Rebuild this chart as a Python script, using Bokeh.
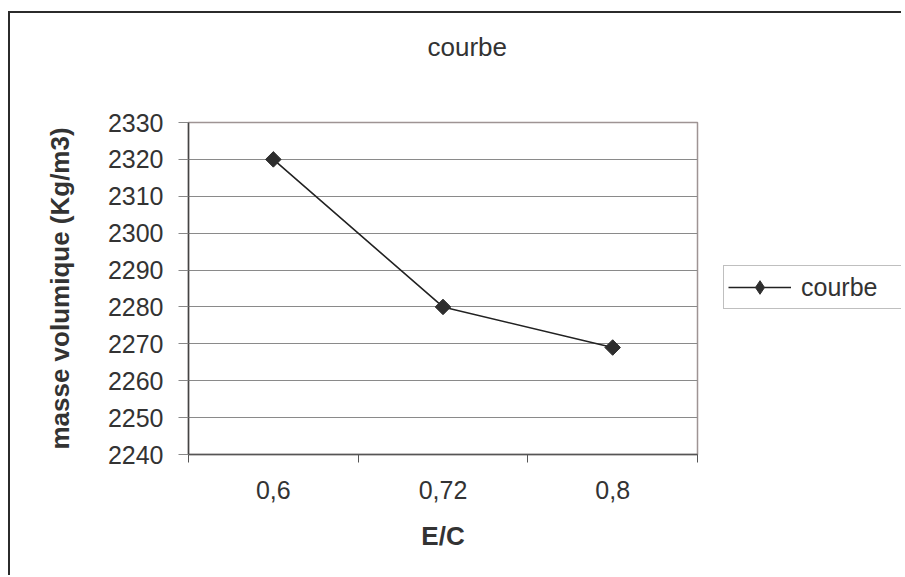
from bokeh.plotting import figure
from bokeh.layouts import row
from bokeh.models import (Range1d, FixedTicker, Legend, LegendItem, LinearAxis)
from bokeh.embed import file_html
from bokeh.resources import INLINE

# ---- data ----
categories = ["0,6", "0,72", "0,8"]
masse = [2320, 2280, 2269]
series_name = "courbe"
y_ticks = [2240, 2250, 2260, 2270, 2280, 2290, 2300, 2310, 2320, 2330]

x_pos = [i + 0.5 for i in range(len(categories))]

FONT = "Liberation Sans"
TXT = "#333333"
LINE_C = "#222222"
MARK_C = "#2e2e2e"
H = 562

p = figure(width=705, height=H, output_backend="svg", toolbar_location=None,
           x_range=Range1d(0, len(categories)), y_range=Range1d(2240, 2330),
           min_border_left=178, min_border_right=18, min_border_top=109,
           min_border_bottom=121)
p.background_fill_color = "white"
p.border_fill_color = "white"
p.outline_line_color = "#9e9494"
p.outline_line_width = 1.5

# invisible spacer between the plot area and the title
mid = len(categories) / 2
spacer = LinearAxis(ticker=FixedTicker(ticks=[mid], minor_ticks=[]),
                    major_label_overrides={mid: ""},
                    major_label_text_font_size="0px",
                    axis_line_color=None, major_tick_line_color=None,
                    minor_tick_line_color=None, major_tick_out=61,
                    major_tick_in=0, minor_tick_out=0,
                    major_label_standoff=0)
p.add_layout(spacer, "above")

# title
p.title.text = "courbe"
p.title.text_font = FONT
p.title.text_font_size = "26px"
p.title.text_font_style = "normal"
p.title.text_color = TXT
p.title.align = "left"
p.title.offset = 239
p.title.vertical_align = "bottom"
p.title.standoff = 0

# x axis (categories between minor ticks, Excel style)
xa = p.below[0]
xa.ticker = FixedTicker(ticks=x_pos, minor_ticks=list(range(len(categories) + 1)))
xa.major_label_overrides = {x: c for x, c in zip(x_pos, categories)}
xa.major_tick_out = 0
xa.major_tick_in = 0
xa.minor_tick_out = 8
xa.minor_tick_in = 0
xa.minor_tick_line_color = "#555555"
xa.axis_line_color = "#555555"
xa.axis_line_width = 1.5
xa.major_label_text_font = FONT
xa.major_label_text_font_size = "25px"
xa.major_label_text_color = TXT
xa.major_label_standoff = 18
xa.axis_label = "E/C"
xa.axis_label_text_font = FONT
xa.axis_label_text_font_size = "26px"
xa.axis_label_text_font_style = "bold"
xa.axis_label_text_color = TXT
xa.axis_label_standoff = 19

# y axis
ya = p.left[0]
ya.ticker = FixedTicker(ticks=y_ticks, minor_ticks=[])
ya.major_tick_out = 10
ya.major_tick_in = 0
ya.major_tick_line_color = "#888888"
ya.axis_line_color = "#444444"
ya.axis_line_width = 1.5
ya.major_label_text_font = FONT
ya.major_label_text_font_size = "25px"
ya.major_label_text_color = TXT
ya.major_label_standoff = 15
ya.axis_label = "masse volumique (Kg/m3)"
ya.axis_label_text_font = FONT
ya.axis_label_text_font_size = "26px"
ya.axis_label_text_font_style = "bold"
ya.axis_label_text_color = TXT
ya.axis_label_standoff = 30

p.xgrid.grid_line_color = None
p.ygrid.ticker = FixedTicker(ticks=y_ticks)
p.ygrid.grid_line_color = "#8a8a8a"
p.ygrid.grid_line_width = 1

# series
p.line(x_pos, masse, line_color=LINE_C, line_width=1.6)
p.scatter(x_pos, masse, marker="square", angle=0.785398, size=11,
          fill_color=MARK_C, line_color=MARK_C)

# legend panel (separate canvas to the right of the plot area;
# the series lies outside this canvas' ranges, only its legend key shows)
lf = figure(width=186, height=H, output_backend="svg", toolbar_location=None,
            x_range=Range1d(0, 1), y_range=Range1d(0, 1),
            x_axis_type=None, y_axis_type=None, min_border=0)
lf.outline_line_color = None
lf.background_fill_color = "white"
lf.border_fill_color = "white"
k_ln = lf.line(x_pos, masse, line_color=LINE_C, line_width=1.6)
k_mk = lf.scatter(x_pos, masse, marker="diamond", size=14,
                  fill_color=MARK_C, line_color=MARK_C)
legend = Legend(items=[LegendItem(label=series_name, renderers=[k_ln, k_mk])],
                location=(8, 145), orientation="vertical",
                glyph_width=63, glyph_height=34, label_height=27,
                label_width=110, label_standoff=10, padding=4, spacing=0,
                margin=0,
                border_line_color="#808080", border_line_width=1,
                background_fill_color="white", background_fill_alpha=1,
                label_text_font=FONT, label_text_font_size="25px",
                label_text_color=TXT)
lf.add_layout(legend, "center")

layout = row(p, lf, spacing=0)
layout.margin = (11, 0, 0, 8)
layout.styles = {"border-left": "2px solid #2b2b2b",
                 "border-top": "2px solid #2b2b2b"}

open("out.html", "w").write(file_html(layout, INLINE))
